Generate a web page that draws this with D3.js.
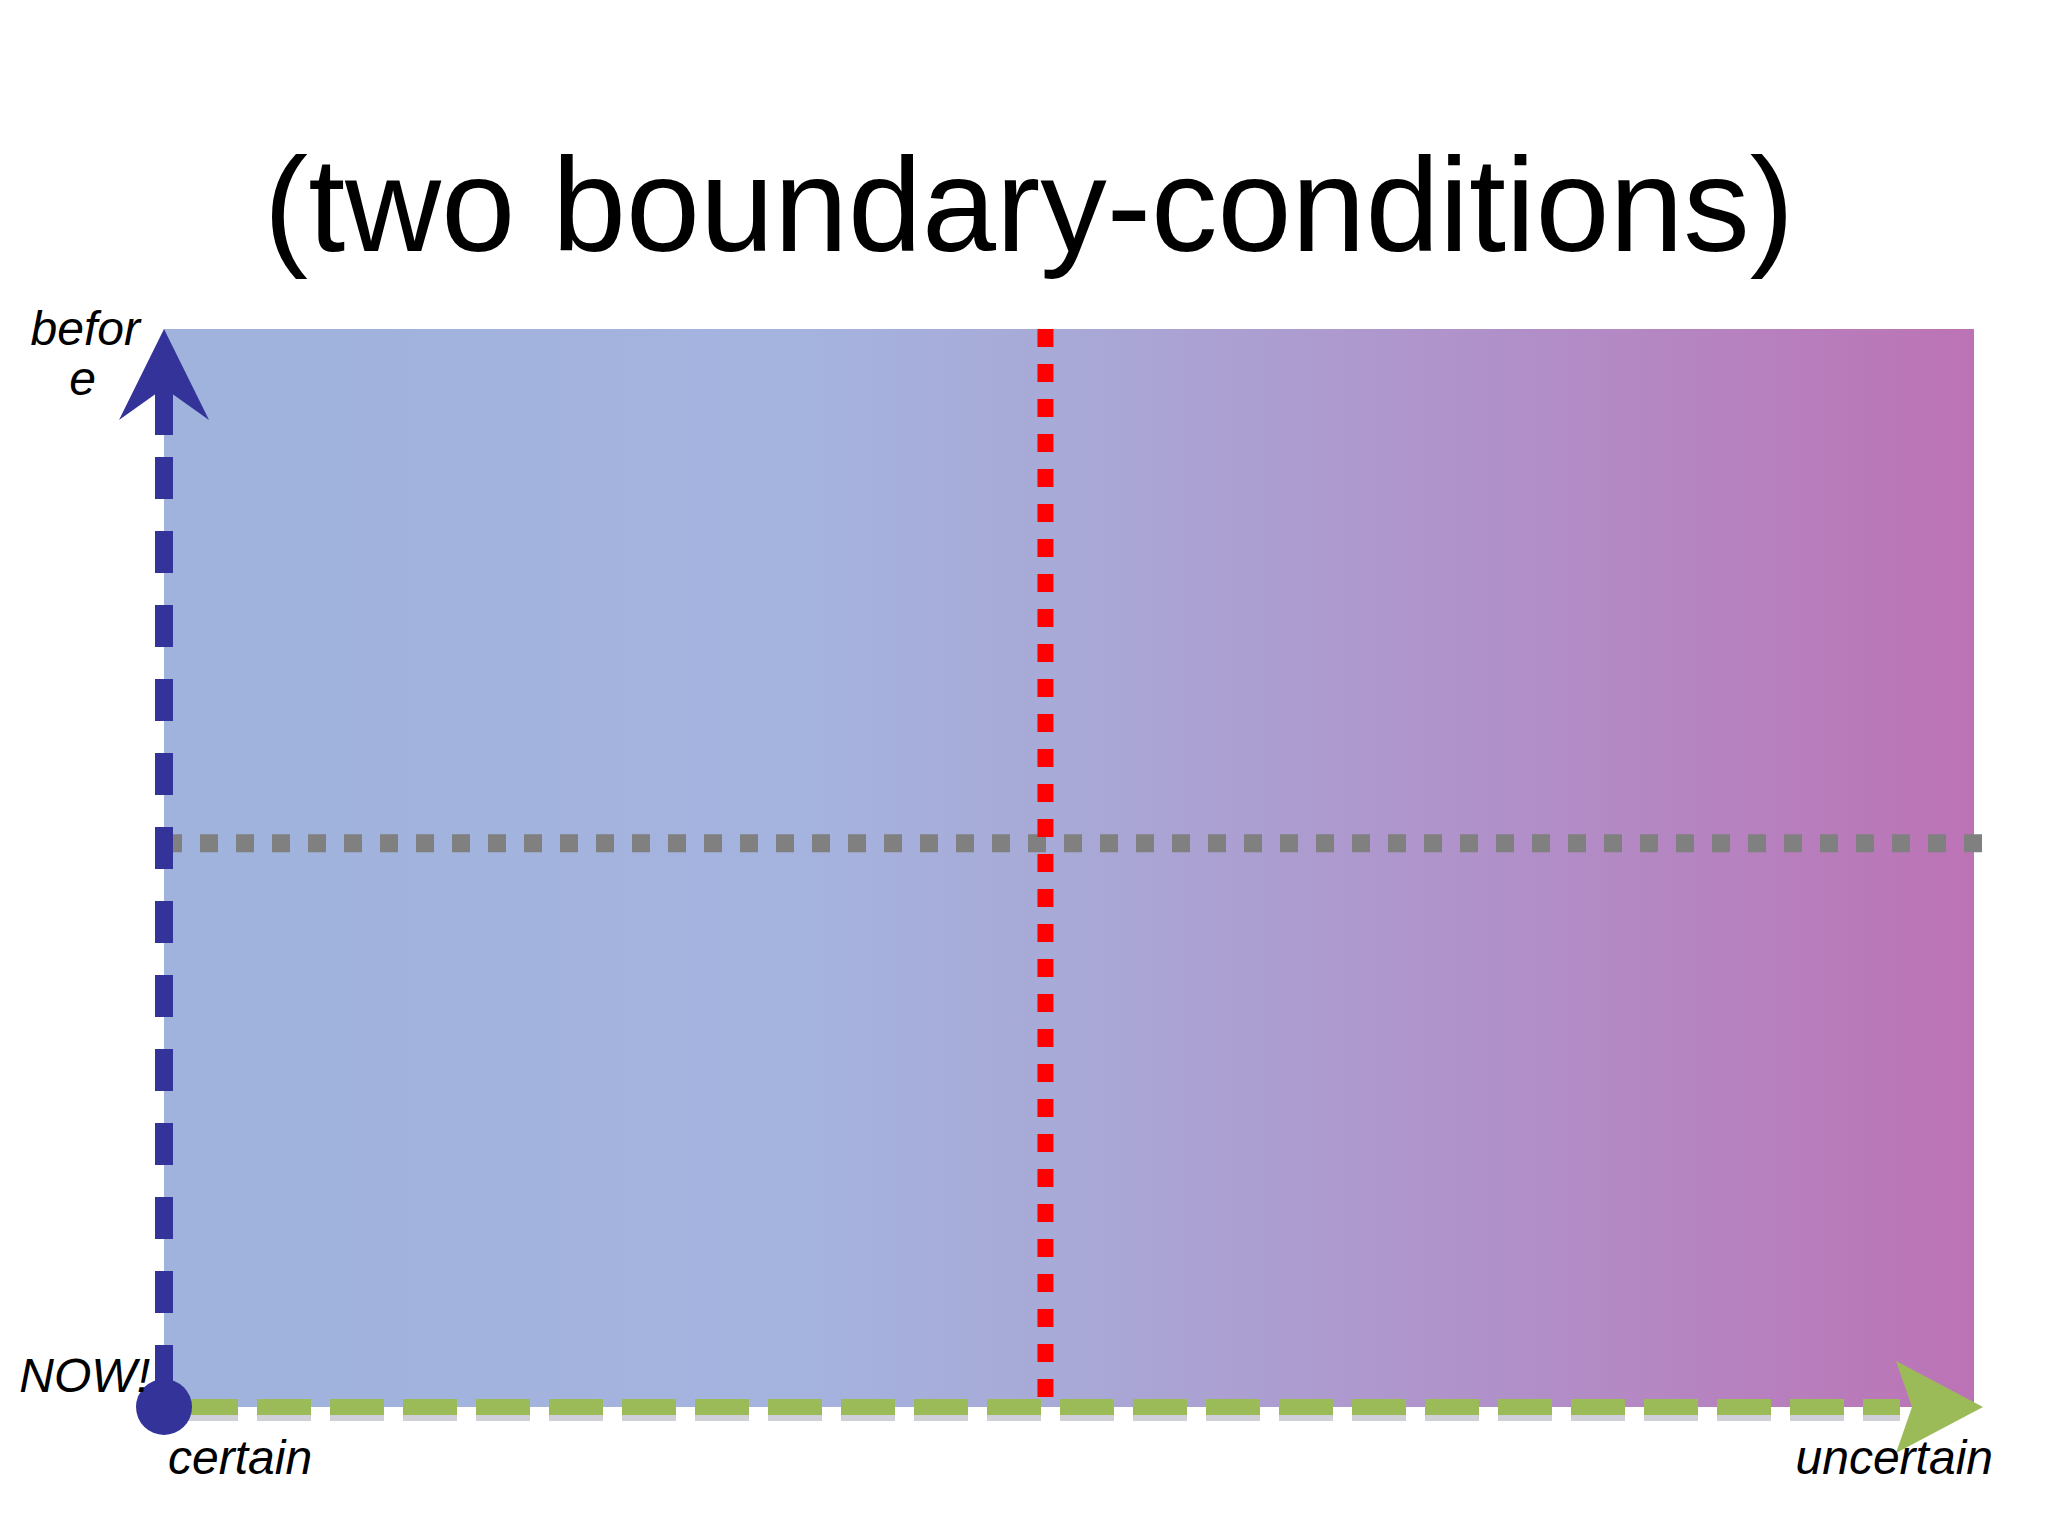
<!DOCTYPE html><html><head><meta charset="utf-8"><script src="https://cdn.jsdelivr.net/npm/d3@7"></script>
<style>body{margin:0;background:#fff}</style></head><body><svg id="c" width="2048" height="1536"></svg><script>
const title = "(two boundary-conditions)";
const axisLabels = ["befor","e","NOW!","certain","uncertain"];
const xBoundary = [0.487];
const yBoundary = [0.523];
const gradStops = [[0,"#9fb3dc"],[0.35,"#a5b3df"],[0.5,"#a8a9d6"],[0.75,"#b18fc8"],[1,"#bc73b5"]];

const svg = d3.select("#c");
const x = d3.scaleLinear().domain([0,1]).range([164,1974]);
const y = d3.scaleLinear().domain([0,1]).range([1407,329]);
const defs = svg.append("defs");
const g = defs.append("linearGradient").attr("id","bg");
g.selectAll("stop").data(gradStops).join("stop").attr("offset",d=>d[0]).attr("stop-color",d=>d[1]);
svg.append("rect").attr("x",x(0)).attr("y",y(1)).attr("width",x(1)-x(0)).attr("height",y(0)-y(1)).attr("fill","url(#bg)");

svg.append("text").attr("x",1029).attr("y",251).attr("text-anchor","middle")
  .attr("font-family","Liberation Sans, Arial").attr("font-size",133).text(title);

yBoundary.forEach(v=>svg.append("line").attr("x1",x(0)).attr("x2",1996).attr("y1",y(v)).attr("y2",y(v))
  .attr("stroke","#808080").attr("stroke-width",18).attr("stroke-dasharray","18 18"));
xBoundary.forEach(v=>svg.append("line").attr("x1",x(v)).attr("x2",x(v)).attr("y1",y(1)).attr("y2",y(0))
  .attr("stroke","#ff0000").attr("stroke-width",16).attr("stroke-dasharray","18 17"));
svg.append("line").attr("x1",x(0)+20).attr("x2",1900).attr("y1",y(0)).attr("y2",y(0))
  .attr("stroke","#d0d0d8").attr("stroke-width",16).attr("stroke-dasharray","54 19").attr("transform","translate(0,6)");
svg.append("line").attr("x1",x(0)+20).attr("x2",1900).attr("y1",y(0)).attr("y2",y(0))
  .attr("stroke","#9bbb59").attr("stroke-width",16).attr("stroke-dasharray","54 19");
svg.append("path").attr("d",`M1896,${y(0)-46}L1983,${y(0)}L1896,${y(0)+46}L1912,${y(0)}Z`).attr("fill","#9bbb59");
svg.append("line").attr("x1",x(0)).attr("x2",x(0)).attr("y1",y(0)).attr("y2",385)
  .attr("stroke","#333399").attr("stroke-width",18).attr("stroke-dasharray","42 32").attr("stroke-dashoffset",-20);
svg.append("line").attr("x1",x(0)).attr("x2",x(0)).attr("y1",435).attr("y2",385).attr("stroke","#333399").attr("stroke-width",18);
svg.append("path").attr("d",`M${x(0)},${y(1)}L${x(0)+45},420L${x(0)},388L${x(0)-45},420Z`).attr("fill","#333399");
svg.append("circle").attr("cx",x(0)).attr("cy",y(0)).attr("r",28).attr("fill","#333399");

const lab = [[140,345,"end"],[96,395,"end"],[150,1392,"end"],[168,1474,"start"],[1993,1474,"end"]];
svg.selectAll("text.l").data(axisLabels).join("text").attr("class","l")
  .attr("x",(d,i)=>lab[i][0]).attr("y",(d,i)=>lab[i][1]).attr("text-anchor",(d,i)=>lab[i][2])
  .attr("font-family","Liberation Sans, Arial").attr("font-style","italic").attr("font-size",48).text(d=>d);
</script></body></html>
